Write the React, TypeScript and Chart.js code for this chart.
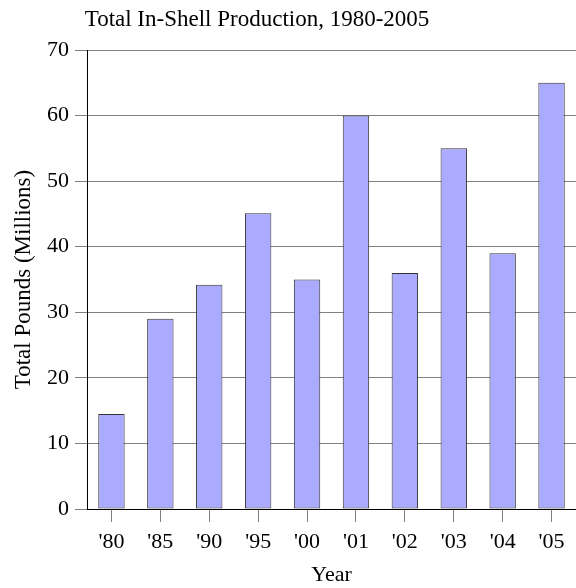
import React, { useEffect, useRef } from "react";
import { Chart, registerables } from "chart.js";

Chart.register(...registerables);

const categories = ["'80", "'85", "'90", "'95", "'00", "'01", "'02", "'03", "'04", "'05"];
const production = [14.5, 29, 34.2, 45.1, 35, 60, 36, 55, 39, 65];
const titleText = "Total In-Shell Production, 1980-2005";
const yTitle = "Total Pounds (Millions)";
const xTitle = "Year";

const FONT = "'Liberation Serif', 'Times New Roman', serif";

export default function App() {
  const ref = useRef<HTMLCanvasElement | null>(null);

  useEffect(() => {
    document.body.style.margin = "0";
    const canvas = ref.current;
    if (!canvas) return;

    const titlePlugin = {
      id: "customTitle",
      afterDraw(chart: any) {
        const ctx = chart.ctx;
        ctx.save();
        ctx.font = `23px ${FONT}`;
        ctx.fillStyle = "#000";
        ctx.textAlign = "center";
        ctx.textBaseline = "alphabetic";
        ctx.fillText(titleText, 257, 26);
        ctx.restore();
      },
    };

    const chart = new Chart(canvas, {
      type: "bar",
      data: {
        labels: categories,
        datasets: [
          {
            data: production,
            backgroundColor: "#aaaaff",
            borderColor: "#333333",
            borderWidth: 1,
            borderSkipped: false,
            categoryPercentage: 1,
            barPercentage: 0.54,
          },
        ],
      },
      options: {
        animation: false,
        responsive: false,
        maintainAspectRatio: false,
        layout: { padding: { top: 50, left: 0, right: 0, bottom: 0 } },
        plugins: {
          legend: { display: false },
          tooltip: { enabled: false },
          title: { display: false },
        },
        scales: {
          x: {
            offset: true,
            grid: {
              offset: false,
              drawOnChartArea: false,
              drawTicks: true,
              tickLength: 13,
              color: "#808080",
            },
            border: { display: true, color: "#000", width: 1 },
            ticks: {
              color: "#000",
              font: { family: FONT, size: 22 },
              padding: 7,
              maxRotation: 0,
            },
            title: {
              display: true,
              text: xTitle,
              color: "#000",
              font: { family: FONT, size: 22 },
              padding: { top: 2, bottom: 0 },
            },
            afterFit: (scale: any) => {
              scale.height = 79;
            },
          },
          y: {
            min: 0,
            max: 70,
            ticks: {
              stepSize: 10,
              color: "#000",
              font: { family: FONT, size: 22 },
              padding: 6,
            },
            grid: {
              color: "#808080",
              lineWidth: 1,
              tickLength: 12,
              drawTicks: true,
            },
            border: { display: true, color: "#000", width: 1 },
            title: {
              display: true,
              text: yTitle,
              color: "#000",
              font: { family: FONT, size: 23 },
              padding: { top: 10, bottom: 4 },
            },
            afterFit: (scale: any) => {
              scale.width = 87;
            },
          },
        },
      },
      plugins: [titlePlugin],
    });

    return () => chart.destroy();
  }, []);

  return <canvas ref={ref} width={576} height={588} style={{ display: "block" }} />;
}
